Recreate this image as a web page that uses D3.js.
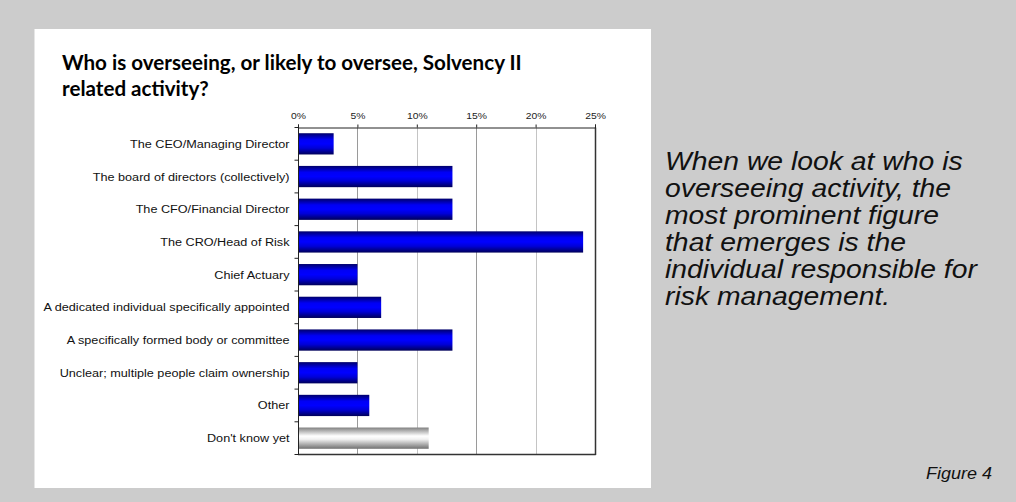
<!DOCTYPE html>
<html>
<head>
<meta charset="utf-8">
<script src="https://cdn.jsdelivr.net/npm/d3@7"></script>
<style>
  html, body { margin: 0; padding: 0; background: #cccccc; }
  svg { display: block; }
</style>
</head>
<body>
<svg id="chart" width="1016" height="502"></svg>
<script>
// Survey responses: share of respondents naming each overseer (%)
const categories = [
  "The CEO/Managing Director",
  "The board of directors (collectively)",
  "The CFO/Financial Director",
  "The CRO/Head of Risk",
  "Chief Actuary",
  "A dedicated individual specifically appointed",
  "A specifically formed body or committee",
  "Unclear; multiple people claim ownership",
  "Other",
  "Don't know yet"
];
const values = [3, 13, 13, 24, 5, 7, 13, 5, 6, 11];
const tickValues = [0, 5, 10, 15, 20, 25];
const titleLines = ["Who is overseeing, or likely to oversee, Solvency II", "related activity?"];
const noteLines = [
  "When we look at who is",
  "overseeing activity, the",
  "most prominent figure",
  "that emerges is the",
  "individual responsible for",
  "risk management."
];
const figureLabel = "Figure 4";

const SANS = "Liberation Sans, Arial, Helvetica, sans-serif";
const WIDE = 1.09; // horizontal stretch of the Arial text

const svg = d3.select("#chart");

// places a text element at (px, py) with a slight horizontal stretch
function placeText(sel, px, py, k = WIDE) {
  return sel.attr("x", 0).attr("y", 0)
    .attr("transform", `translate(${px},${py}) scale(${k},1)`);
}

// gradients for the bars
const defs = svg.append("defs");
const blue = defs.append("linearGradient").attr("id", "gBlue")
  .attr("x1", 0).attr("y1", 0).attr("x2", 0).attr("y2", 1);
[[0, "#00006a"], [0.3, "#0000f5"], [0.5, "#0000ff"], [0.7, "#0000d8"], [1, "#000058"]]
  .forEach(([o, c]) => blue.append("stop").attr("offset", o).attr("stop-color", c));
const grey = defs.append("linearGradient").attr("id", "gGrey")
  .attr("x1", 0).attr("y1", 0).attr("x2", 0).attr("y2", 1);
[[0, "#808080"], [0.4, "#ffffff"], [0.55, "#f2f2f2"], [1, "#707070"]]
  .forEach(([o, c]) => grey.append("stop").attr("offset", o).attr("stop-color", c));

// white card behind the chart
svg.append("rect").attr("x", 34.5).attr("y", 29).attr("width", 616.5).attr("height", 459)
  .attr("fill", "#ffffff");

const x = d3.scaleLinear().domain([0, 25]).range([298, 595]);
const y = d3.scaleBand().domain(categories).range([127.5, 454.5])
  .paddingInner(0.35).paddingOuter(0.175);

// vertical gridlines
svg.append("g").selectAll("line").data(tickValues.filter(t => t > 0 && t < 25)).join("line")
  .attr("x1", d => Math.round(x(d)) + 0.5).attr("x2", d => Math.round(x(d)) + 0.5)
  .attr("y1", 127.5).attr("y2", 454.5)
  .attr("stroke", (d, i) => i % 2 === 0 ? "#9a9a9a" : "#c4c4c4").attr("stroke-width", 1);

// bars
svg.append("g").selectAll("rect").data(values).join("rect")
  .attr("x", x(0))
  .attr("y", (d, i) => y(categories[i]))
  .attr("width", d => x(d) - x(0))
  .attr("height", y.bandwidth())
  .attr("fill", (d, i) => categories[i] === "Don't know yet" ? "url(#gGrey)" : "url(#gBlue)");

// right and bottom frame
svg.append("line").attr("x1", Math.round(x(25)) + 0.5).attr("x2", Math.round(x(25)) + 0.5)
  .attr("y1", 127.5).attr("y2", 455).attr("stroke", "#333").attr("stroke-width", 1.5);
svg.append("line").attr("x1", x(0)).attr("x2", x(25) + 0.75)
  .attr("y1", 454.5).attr("y2", 454.5).attr("stroke", "#333").attr("stroke-width", 1.5);

// top axis with percentage ticks
const xAxis = d3.axisTop(x).tickValues(tickValues).tickSize(3).tickPadding(6)
  .tickFormat(d => d + "%");
const gx = svg.append("g").attr("transform", "translate(0,127.5)").call(xAxis);
gx.select(".domain").attr("stroke", "#222");
gx.selectAll(".tick line").attr("stroke", "#222");
gx.selectAll("text").attr("font-family", SANS).attr("font-size", 9.5).attr("fill", "#222")
  .attr("transform", `scale(${WIDE},1)`).attr("x", 0);

// left axis: tick marks on category boundaries, labels centred on bars
const x0 = Math.round(x(0)) + 0.5;
const gy = svg.append("g");
gy.append("line").attr("x1", x0).attr("x2", x0).attr("y1", 127.5).attr("y2", 455).attr("stroke", "#222");
const bounds = d3.range(categories.length + 1)
  .map(i => 127.5 + i * (454.5 - 127.5) / categories.length);
gy.selectAll("line.tk").data(bounds).join("line").attr("class", "tk")
  .attr("x1", x0 - 4).attr("x2", x0).attr("y1", d => d).attr("y2", d => d).attr("stroke", "#222");
gy.selectAll("text").data(categories).join("text")
  .each(function (d) { placeText(d3.select(this), x0 - 9, y(d) + y.bandwidth() / 2, 1.12); })
  .attr("dy", "0.35em").attr("text-anchor", "end")
  .attr("font-family", SANS).attr("font-size", 11.3)
  .attr("fill", "#111").text(d => d);

// title
svg.append("g").selectAll("text").data(titleLines).join("text")
  .attr("x", 62).attr("y", (d, i) => 70 + i * 26)
  .attr("font-family", "Lato, sans-serif").attr("font-weight", 700).attr("font-size", 20.6)
  .attr("fill", "#000").text(d => d);

// commentary
svg.append("g").selectAll("text").data(noteLines).join("text")
  .each(function (d, i) { placeText(d3.select(this), 665, 169.5 + i * 27); })
  .attr("font-family", SANS).attr("font-style", "italic")
  .attr("font-size", 26).attr("fill", "#111").text(d => d);

placeText(svg.append("text"), 992, 479).attr("text-anchor", "end")
  .attr("font-family", SANS).attr("font-style", "italic")
  .attr("font-size", 16.5).attr("fill", "#111").text(figureLabel);
</script>
</body>
</html>
